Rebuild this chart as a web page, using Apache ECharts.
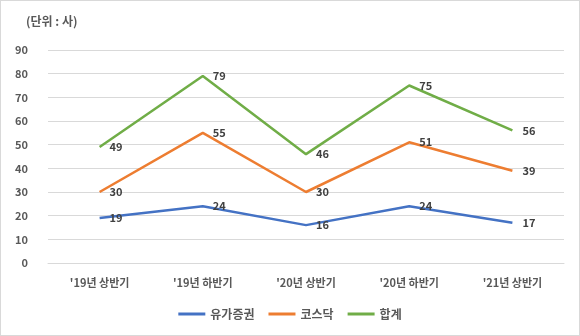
<!DOCTYPE html>
<html><head><meta charset="utf-8">
<script src="https://cdn.jsdelivr.net/npm/echarts@6/dist/echarts.min.js"></script>
<style>html,body{margin:0;padding:0;background:#fff}#c{width:578px;height:334px;border:1px solid #d9d9d9}</style>
</head><body><div id="c"></div>
<script>
const categories = ["'19년 상반기", "'19년 하반기", "'20년 상반기", "'20년 하반기", "'21년 상반기"];
const kospi = [19, 24, 16, 24, 17];
const kosdaq = [30, 55, 30, 51, 39];
const total = [49, 79, 46, 75, 56];
const seriesNames = ['유가증권', '코스닥', '합계'];
const colors = ['#4472C4', '#ED7D31', '#70AD47'];
const font = '"Noto Sans CJK KR", "Noto Sans", sans-serif';
const chart = echarts.init(document.getElementById('c'));
const mk = (name, data, color) => ({
  name, type: 'line', data, color,
  symbol: 'circle', symbolSize: 0, showSymbol: true, smooth: false,
  lineStyle: { width: 2.5, color },
  label: { show: true, position: 'right', distance: 10, color: '#404040', fontSize: 11, fontWeight: 'bold', fontFamily: font }
});
chart.setOption({
  animation: false,
  title: { text: '(단위 : 사)', left: 20, top: 9, textStyle: { fontSize: 12, fontWeight: 'bold', color: '#595959', fontFamily: font } },
  grid: { left: 47, right: 15, top: 49, bottom: 72 },
  legend: { bottom: 10, left: 'center', itemWidth: 27, itemHeight: 3, itemGap: 14, icon: 'rect',
    textStyle: { fontSize: 12, fontWeight: 'bold', color: '#595959', fontFamily: font }, data: seriesNames },
  xAxis: { type: 'category', data: categories, boundaryGap: true,
    axisLine: { lineStyle: { color: '#d9d9d9' } }, axisTick: { show: false },
    axisLabel: { color: '#595959', fontSize: 11, fontWeight: 'bold', margin: 14, fontFamily: font } },
  yAxis: { type: 'value', min: 0, max: 90, interval: 10,
    axisLine: { show: false }, axisTick: { show: false },
    splitLine: { lineStyle: { color: '#d9d9d9' } },
    axisLabel: { color: '#595959', fontSize: 11, fontWeight: 'bold', margin: 20, fontFamily: font } },
  series: [mk(seriesNames[0], kospi, colors[0]), mk(seriesNames[1], kosdaq, colors[1]), mk(seriesNames[2], total, colors[2])]
});
</script></body></html>
